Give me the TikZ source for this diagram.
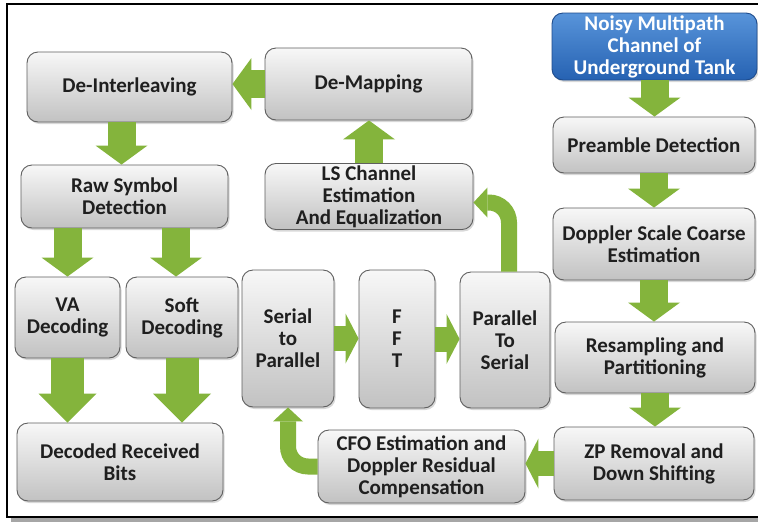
\documentclass[tikz,border=0pt]{standalone}
\usepackage{fontspec}
\setmainfont{Carlito}
\usepackage{tikz}
\usetikzlibrary{arrows.meta,shadows}

\definecolor{arrowgreen}{RGB}{132,180,60}
\definecolor{boxline}{RGB}{95,95,95}
\definecolor{bluetop}{RGB}{88,148,218}
\definecolor{bluebot}{RGB}{38,98,178}
\definecolor{blueline}{RGB}{30,75,140}

\tikzset{
  graybox/.style={rounded corners=11pt, draw=boxline, line width=0.9pt,
    top color=black!3, bottom color=black!24,
    drop shadow={opacity=0.3, shadow xshift=1.5pt, shadow yshift=-2pt},
    align=center, text=black!88, inner sep=2pt,
    font=\bfseries\fontsize{21}{22}\selectfont},
  bluebox/.style={graybox, draw=blueline, top color=bluetop, bottom color=bluebot, text=white},
  flow/.style={draw=arrowgreen, line width=28pt, -{Triangle[length=19pt,width=52pt,line width=0pt]}},
  bigflow/.style={draw=arrowgreen, line width=33pt, -{Triangle[length=29pt,width=58pt,line width=0pt]}},
  shortflow/.style={draw=arrowgreen, line width=25pt, -{Triangle[length=13pt,width=50pt,line width=0pt]}},
  bentflow/.style={draw=arrowgreen, line width=16pt, rounded corners=20pt, -{Triangle[length=14pt,width=30pt,line width=0pt]}}
}

\begin{document}
\begin{tikzpicture}[x=1pt, y=-1pt]
    % page and outer frame
    \useasboundingbox (0,0) rectangle (758,523);
    \fill[white] (0,0) rectangle (758,523);
    \fill[black!35] (11,517) rectangle (760,522);
    \draw[line width=2.5pt] (7,4) rectangle (770,517);

    % Draw the receiver blocks
    \node[bluebox, minimum width=205pt, minimum height=67pt] (noisy) at (654.5,46.5) {Noisy Multipath\\Channel of\\Underground Tank};
    \foreach \nm/\x/\y/\w/\h/\txt in {
        preamble/654/145/202/56/{Preamble Detection},
        dopcoarse/654/244/202/72/{Doppler Scale Coarse\\Estimation},
        resamp/655/357.5/200/71/{Resampling and\\Partitioning},
        zpremove/654/463.5/200/73/{ZP Removal and\\Down Shifting},
        cfo/421.5/466.5/207/73/{CFO Estimation and\\Doppler Residual\\Compensation},
        sertopar/288/338.5/92/137/{Serial\\to\\Parallel},
        fft/397/339/76/138/{F\\F\\T},
        partoser/505/340/90/136/{Parallel\\To\\Serial},
        lschan/369/196.5/208/63/{LS Channel\\Estimation\\And Equalization},
        demap/368.5/84/207/72/{De-Mapping},
        deinter/129.5/87/205/70/{De-Interleaving},
        rawsym/124.5/196.5/207/63/{Raw Symbol\\Detection},
        vadec/67.5/317.5/105/81/{VA\\Decoding},
        softdec/182/317.5/112/81/{Soft\\Decoding},
        bits/120/462/206/78/{Decoded Received\\Bits}} {
        \node[graybox, minimum width=\w pt, minimum height=\h pt] (\nm) at (\x,\y) {\txt};
    }

    % Green flow arrows
    \draw[flow] (noisy.south) -- (noisy.south |- preamble.north);
    \draw[flow] (preamble.south) -- (preamble.south |- dopcoarse.north);
    \draw[flow] (dopcoarse.south) -- (dopcoarse.south |- resamp.north);
    \draw[flow] (resamp.south) -- (resamp.south |- zpremove.north);
    \draw[shortflow] (zpremove.west) -- (zpremove.west -| cfo.east);
    \draw[bentflow] (cfo.west) -| (sertopar.south);
    \draw[shortflow] (sertopar.east) -- (sertopar.east -| fft.west);
    \draw[shortflow] (fft.east) -- (fft.east -| partoser.west);
    \draw[bentflow] ([xshift=4pt]partoser.north) |- ([yshift=-6pt]lschan.east);
    \draw[flow] (lschan.north) -- (lschan.north |- demap.south);
    \draw[flow] (demap.west) -- (demap.west -| deinter.east);
    \draw[flow] ([xshift=-3pt]rawsym.north |- deinter.south) -- ([xshift=-3pt]rawsym.north);
    \draw[flow] (rawsym.south -| vadec) -- (vadec.north);
    \draw[flow] ([xshift=-6pt]rawsym.south -| softdec) -- ([xshift=-6pt]softdec.north);
    \draw[bigflow] (vadec.south) -- (vadec.south |- bits.north);
    \draw[bigflow] (softdec.south) -- (softdec.south |- bits.north);
\end{tikzpicture}
\end{document}
